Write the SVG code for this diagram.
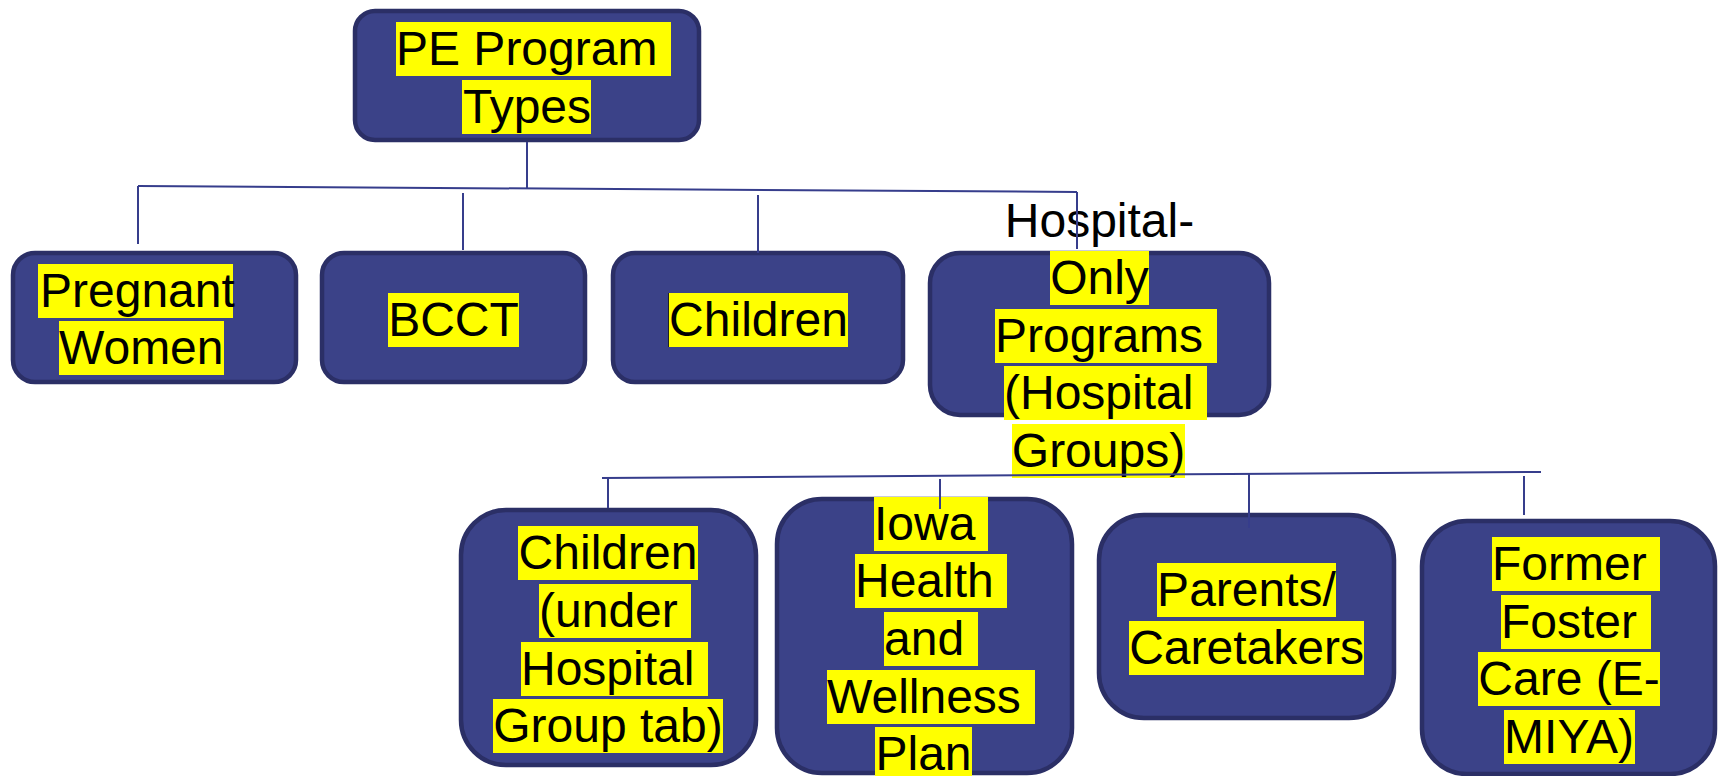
<svg xmlns="http://www.w3.org/2000/svg" width="1718" height="776" viewBox="0 0 1718 776">
  <style>
    .box { fill: #3b4288; stroke: #2b2f66; stroke-width: 4.5; }
    .hl { fill: #ffff00; }
    .t { font-family: "Liberation Sans", Arial, sans-serif; font-size: 48px; fill: #000000; }
    .c { text-anchor: middle; }
    .conn { fill: none; stroke: #363d8c; stroke-width: 2; }
  </style>
  <rect width="1718" height="776" fill="#ffffff"/>

  <!-- Root -->
  <g id="node-root">
    <rect class="box" x="355" y="11" width="344" height="129" rx="20"/>
    <rect class="hl" x="396" y="22" width="275" height="54"/>
    <rect class="hl" x="462" y="80" width="129" height="54"/>
    <text class="t" x="396" y="65.4">PE Program </text>
    <text class="t c" x="527" y="123.4">Types</text>
  </g>

  <!-- First level -->
  <g id="node-pregnant">
    <rect class="box" x="13" y="253" width="283" height="129" rx="22"/>
    <rect class="hl" x="38" y="264" width="195" height="54"/>
    <rect class="hl" x="59" y="321" width="165" height="54"/>
    <text class="t" x="40" y="307.4">Pregnant</text>
    <text class="t" x="59" y="364.4">Women</text>
  </g>

  <g id="node-bcct">
    <rect class="box" x="322" y="253" width="263" height="129" rx="22"/>
    <rect class="hl" x="388" y="293" width="131" height="54"/>
    <text class="t c" x="453.5" y="336.4">BCCT</text>
  </g>

  <g id="node-children">
    <rect class="box" x="613" y="253" width="290" height="129" rx="22"/>
    <rect class="hl" x="669" y="293" width="179" height="54"/>
    <line x1="668.5" y1="293" x2="668.5" y2="347" stroke="#222" stroke-width="1"/>
    <text class="t c" x="758.5" y="336.4">Children</text>
  </g>

  <g id="node-hospital-only">
    <rect class="box" x="930" y="253" width="339" height="162" rx="30"/>
    <rect class="hl" x="1050" y="251" width="99" height="54"/>
    <rect class="hl" x="995" y="309" width="222" height="54"/>
    <rect class="hl" x="1004" y="366" width="203" height="54"/>
    <rect class="hl" x="1012" y="424" width="173" height="54"/>
    <text class="t c" x="1099.5" y="236.5">Hospital-</text>
    <text class="t c" x="1099.5" y="294.4">Only</text>
    <text class="t" x="995" y="352.4">Programs </text>
    <text class="t" x="1004" y="409.4">(Hospital </text>
    <text class="t c" x="1098.5" y="467.4">Groups)</text>
  </g>

  <!-- Second level -->
  <g id="node-children-hospital-group">
    <rect class="box" x="461" y="510" width="295" height="255" rx="45"/>
    <rect class="hl" x="518" y="526" width="180" height="54"/>
    <rect class="hl" x="539" y="584" width="152" height="54"/>
    <rect class="hl" x="521" y="642" width="187" height="54"/>
    <rect class="hl" x="493" y="699" width="230" height="54"/>
    <text class="t c" x="608" y="569.4">Children</text>
    <text class="t" x="539" y="627.4">(under </text>
    <text class="t" x="521" y="685.4">Hospital </text>
    <text class="t c" x="608" y="742.4">Group tab)</text>
  </g>

  <g id="node-iowa-health">
    <rect class="box" x="777" y="499" width="295" height="274" rx="45"/>
    <rect class="hl" x="874" y="497" width="114" height="54"/>
    <rect class="hl" x="855" y="554" width="152" height="54"/>
    <rect class="hl" x="884" y="612" width="94" height="54"/>
    <rect class="hl" x="827" y="670" width="208" height="54"/>
    <rect class="hl" x="875" y="727" width="97" height="54"/>
    <text class="t" x="874" y="540.4">Iowa </text>
    <text class="t" x="855" y="597.4">Health </text>
    <text class="t" x="884" y="655.4">and </text>
    <text class="t" x="827" y="713.4">Wellness </text>
    <text class="t c" x="923.5" y="770.4">Plan</text>
  </g>

  <g id="node-parents">
    <rect class="box" x="1099" y="515" width="295" height="203" rx="45"/>
    <rect class="hl" x="1157" y="563" width="179" height="54"/>
    <rect class="hl" x="1129" y="621" width="235" height="54"/>
    <text class="t c" x="1246.5" y="606.4">Parents/</text>
    <text class="t c" x="1246.5" y="664.4">Caretakers</text>
  </g>

  <g id="node-former-foster">
    <rect class="box" x="1422" y="521" width="293" height="253" rx="45"/>
    <rect class="hl" x="1492" y="537" width="168" height="54"/>
    <rect class="hl" x="1501" y="595" width="150" height="54"/>
    <rect class="hl" x="1478" y="652" width="182" height="54"/>
    <rect class="hl" x="1504" y="710" width="131" height="54"/>
    <text class="t" x="1492" y="580.4">Former </text>
    <text class="t" x="1501" y="638.4">Foster </text>
    <text class="t c" x="1569" y="695.4">Care (E-</text>
    <text class="t c" x="1569" y="753.4">MIYA)</text>
  </g>

  <!-- Connectors -->
  <g id="connectors" class="conn">
    <path d="M527 142 V188.5"/>
    <path d="M138 186 L1077 192"/>
    <path d="M138 186 V244"/>
    <path d="M463 193 V250"/>
    <path d="M758 195 V253"/>
    <path d="M1077 192 V249"/>
    <path d="M602 478 L1541 472"/>
    <path d="M608 478 V508"/>
    <path d="M940 479 V509"/>
    <path d="M1249 473 V528"/>
    <path d="M1524 476 V515"/>
  </g>
</svg>
